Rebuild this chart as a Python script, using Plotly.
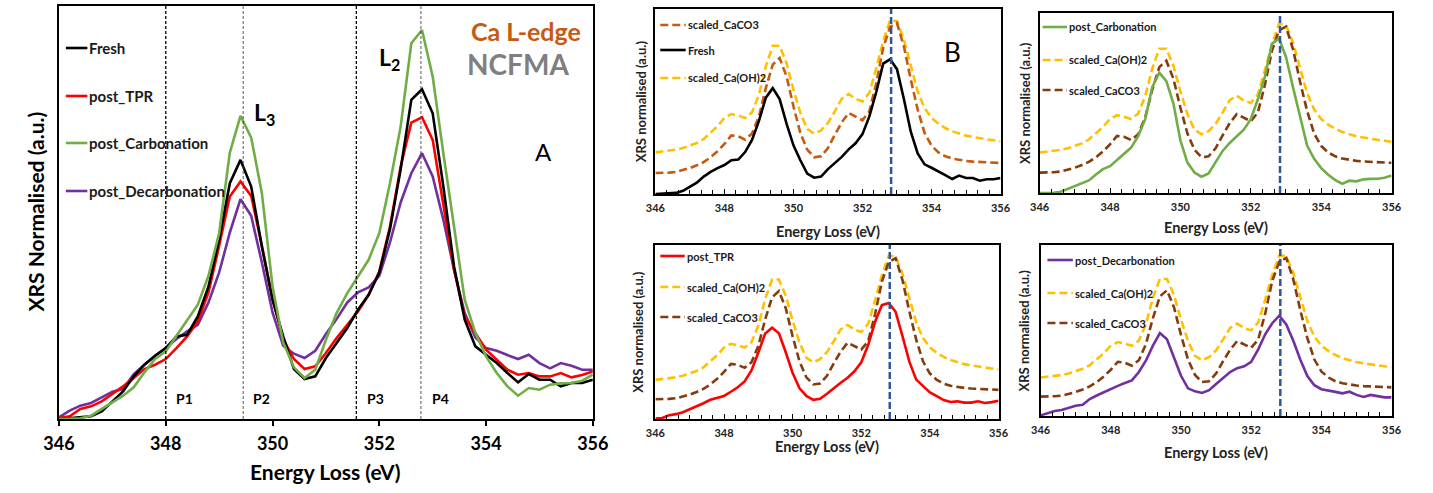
import plotly.graph_objects as go

# ---------------- data ----------------
energy = [346.0, 346.2, 346.4, 346.6, 346.8, 347.0, 347.2, 347.4, 347.6, 347.8,
          348.0, 348.2, 348.4, 348.6, 348.8, 349.0, 349.2, 349.4, 349.6, 349.8,
          350.0, 350.2, 350.4, 350.6, 350.8, 351.0, 351.2, 351.4, 351.6, 351.8,
          352.0, 352.2, 352.4, 352.6, 352.8, 353.0, 353.2, 353.4, 353.6, 353.8,
          354.0, 354.2, 354.4, 354.6, 354.8, 355.0, 355.2, 355.4, 355.6, 355.8, 356.0]

fresh = [0.000, 0.003, 0.006, 0.008, 0.023, 0.053, 0.083, 0.128, 0.163, 0.190,
         0.213, 0.248, 0.253, 0.308, 0.398, 0.538, 0.708, 0.778, 0.698, 0.518,
         0.358, 0.248, 0.150, 0.120, 0.128, 0.183, 0.228, 0.273, 0.328, 0.373,
         0.440, 0.570, 0.750, 0.958, 0.990, 0.918, 0.698, 0.458, 0.298, 0.218,
         0.193, 0.168, 0.138, 0.110, 0.135, 0.118, 0.118, 0.098, 0.108, 0.108, 0.118]

post_tpr = [0.003, 0.008, 0.030, 0.038, 0.053, 0.075, 0.098, 0.123, 0.150, 0.163,
            0.180, 0.213, 0.248, 0.293, 0.380, 0.520, 0.668, 0.713, 0.670, 0.520,
            0.360, 0.240, 0.180, 0.150, 0.158, 0.198, 0.243, 0.283, 0.323, 0.373,
            0.443, 0.578, 0.758, 0.890, 0.906, 0.838, 0.648, 0.448, 0.308, 0.258,
            0.208, 0.178, 0.148, 0.133, 0.138, 0.128, 0.128, 0.138, 0.125, 0.132, 0.143]

post_carbonation = [0.000, 0.000, 0.002, 0.010, 0.030, 0.050, 0.070, 0.095, 0.140, 0.180,
                    0.203, 0.250, 0.298, 0.343, 0.430, 0.558, 0.800, 0.910, 0.845, 0.678,
                    0.398, 0.230, 0.155, 0.123, 0.148, 0.238, 0.318, 0.378, 0.428, 0.478,
                    0.558, 0.708, 0.878, 1.128, 1.168, 1.028, 0.798, 0.578, 0.358, 0.258,
                    0.188, 0.138, 0.098, 0.070, 0.093, 0.088, 0.103, 0.107, 0.108, 0.115, 0.133]

post_decarbonation = [0.005, 0.025, 0.040, 0.048, 0.065, 0.082, 0.090, 0.135, 0.163, 0.190,
                      0.213, 0.240, 0.263, 0.283, 0.350, 0.440, 0.560, 0.660, 0.610, 0.470,
                      0.320, 0.220, 0.196, 0.183, 0.205, 0.255, 0.300, 0.350, 0.380, 0.395,
                      0.430, 0.530, 0.650, 0.738, 0.798, 0.728, 0.598, 0.448, 0.318, 0.245,
                      0.213, 0.205, 0.192, 0.180, 0.193, 0.168, 0.152, 0.168, 0.160, 0.148, 0.148]

scaled_caoh2 = [0.306, 0.311, 0.319, 0.326, 0.338, 0.355, 0.375, 0.404, 0.449, 0.498,
                0.559, 0.588, 0.576, 0.559, 0.600, 0.730, 0.939, 1.090, 1.090, 0.963,
                0.767, 0.596, 0.478, 0.444, 0.468, 0.522, 0.608, 0.701, 0.735, 0.699,
                0.681, 0.743, 0.926, 1.123, 1.277, 1.270, 1.135, 0.939, 0.755, 0.632,
                0.559, 0.517, 0.485, 0.461, 0.444, 0.429, 0.419, 0.409, 0.402, 0.395, 0.387]

scaled_caco3 = [0.154, 0.154, 0.157, 0.162, 0.174, 0.191, 0.211, 0.235, 0.270, 0.314,
                0.368, 0.431, 0.424, 0.400, 0.444, 0.571, 0.779, 0.951, 1.000, 0.865,
                0.645, 0.449, 0.326, 0.270, 0.277, 0.338, 0.436, 0.527, 0.596, 0.571,
                0.542, 0.608, 0.816, 1.074, 1.228, 1.257, 1.086, 0.841, 0.620, 0.449,
                0.355, 0.306, 0.277, 0.260, 0.250, 0.243, 0.238, 0.235, 0.233, 0.230, 0.228]

x_ticks = [346, 348, 350, 352, 354, 356]
region_lines = [348.0, 349.45, 351.57, 352.78]
region_labels = ["P1", "P2", "P3", "P4"]
region_label_x = [348.36, 349.8, 351.92, 353.14]
ref_peak_line = 352.83

# ---------------- styling ----------------
W, H = 1433, 493
FONT = "Lato, Carlito, Calibri, 'Open Sans', sans-serif"
C_FRESH = "#000000"
C_TPR = "#FF0000"
C_CARB = "#70AD47"
C_DECARB = "#7030A0"
C_CAOH2 = "#FFC000"
C_CACO3_B = "#C55A11"
C_CACO3 = "#843C0C"
C_BLUE = "#2F5597"


def fx(p):
    return p / W


def fy(p):
    return 1 - p / H


# panel boxes in pixels: (left, top, right, bottom)
boxes = {
    "A": (44, 6, 590, 419),
    "B": (654, 9, 1007, 194),
    "C": (1047, 13, 1407, 193),
    "D": (654, 245, 1005, 419),
    "E": (1048, 245, 1407, 416),
}
axis_ids = {"A": "", "B": "2", "C": "3", "D": "4", "E": "5"}

fig = go.Figure()


def add(panel, y, color, width=2.6, dash=None):
    aid = axis_ids[panel]
    line = dict(color=color, width=width)
    if dash:
        line["dash"] = dash
    fig.add_trace(go.Scatter(x=energy, y=y, mode="lines", line=line,
                             xaxis="x" + aid, yaxis="y" + aid,
                             showlegend=False, hoverinfo="skip"))


DASH = "8px,4px"
# Panel A
add("A", post_decarbonation, C_DECARB)
add("A", post_tpr, C_TPR)
add("A", fresh, C_FRESH)
add("A", post_carbonation, C_CARB)
# Panel B
add("B", scaled_caoh2, C_CAOH2, dash=DASH)
add("B", scaled_caco3, C_CACO3_B, dash=DASH)
add("B", fresh, C_FRESH)
# Panel C
add("C", scaled_caoh2, C_CAOH2, dash=DASH)
add("C", scaled_caco3, C_CACO3, dash=DASH)
add("C", post_carbonation, C_CARB)
# Panel D
add("D", scaled_caoh2, C_CAOH2, dash=DASH)
add("D", scaled_caco3, C_CACO3, dash=DASH)
add("D", post_tpr, C_TPR)
# Panel E
add("E", scaled_caoh2, C_CAOH2, dash=DASH)
add("E", scaled_caco3, C_CACO3, dash=DASH)
add("E", post_decarbonation, C_DECARB)

layout = dict(
    width=W, height=H,
    margin=dict(l=0, r=0, t=0, b=0),
    paper_bgcolor="white", plot_bgcolor="white",
    font=dict(family=FONT, color="#000000"),
    showlegend=False,
)

for p, (l, t, r, b) in boxes.items():
    aid = axis_ids[p]
    xa = dict(domain=[fx(l), fx(r)], range=[346, 356], showgrid=False, zeroline=False,
              showline=True, linecolor="black", mirror=True,
              tickmode="array", tickvals=x_ticks, ticktext=[str(v) for v in x_ticks],
              anchor="y" + aid, fixedrange=True)
    ya = dict(domain=[fy(b), fy(t)], showgrid=False, zeroline=False,
              showline=True, linecolor="black", mirror=True,
              showticklabels=False, ticks="", anchor="x" + aid, fixedrange=True)
    if p == "A":
        xa.update(linewidth=2, ticks="outside", ticklen=5, tickwidth=1.5, tickcolor="black",
                  tickfont=dict(size=18, family=FONT, color="black", weight="bold"),
                  ticklabelstandoff=2)
        ya.update(linewidth=2, range=[0, 1.24])
    else:
        xa.update(linewidth=1.5, ticks="inside", ticklen=5, tickwidth=1.2, tickcolor="black",
                  tickfont=dict(size=11, family=FONT, color="#222222", weight="bold"),
                  ticklabelstandoff=3,
                  minor=dict(ticks="inside", ticklen=4, tickwidth=1.2, tickcolor="black",
                             dtick=1 / 3, tick0=346, showgrid=False))
        ya.update(linewidth=1.5, range=[0, 1.36])
    layout["xaxis" + aid] = xa
    layout["yaxis" + aid] = ya

fig.update_layout(**layout)

shapes = []
annotations = []


def note(text, x, y, size, color="#000000", xref="paper", yref="paper",
         xanchor="center", yanchor="middle", angle=0):
    annotations.append(dict(text=text, x=x, y=y, xref=xref, yref=yref,
                            xanchor=xanchor, yanchor=yanchor, textangle=angle,
                            showarrow=False, font=dict(size=size, family=FONT, color=color)))


# region separators in panel A
for i, xv in enumerate(region_lines):
    heavy = i in (0, 2)
    shapes.append(dict(type="line", xref="x", yref="y domain", x0=xv, x1=xv, y0=0, y1=1,
                       line=dict(color="#000000" if heavy else "#444444",
                                 width=1.3 if heavy else 0.9, dash="3px,2px")))
for lab, xv in zip(region_labels, region_label_x):
    note("<b>%s</b>" % lab, xv, fy(398), 14, xref="x")

# blue reference lines in panels B-E
for p in ["B", "C", "D", "E"]:
    aid = axis_ids[p]
    shapes.append(dict(type="line", xref="x" + aid, yref="y%s domain" % aid,
                       x0=ref_peak_line, x1=ref_peak_line, y0=0, y1=1,
                       line=dict(color=C_BLUE, width=2.5, dash="7px,3px")))

# panel A texts
note("<b>L<sub>3</sub></b>", 349.85, fy(113), 23, xref="x")
note("<b>L<sub>2</sub></b>", 352.2, fy(58), 23, xref="x")
note("<b>Ca L-edge</b>", fx(580), fy(31), 25, color="#C55A11", xanchor="right")
note("<b>NCFMA</b>", fx(568), fy(64), 28, color="#7F7F7F", xanchor="right")
note("A", fx(540), fy(151), 24)
note("B", fx(958), fy(52), 26)

# axis titles
note("<b>Energy Loss (eV)</b>", fx(317), fy(471), 21)
note("<b>XRS Normalised (a.u.)</b>", fx(19), fy(212), 21, angle=-90)
for p, xt_y, yt_x in [("B", 231, 640), ("C", 227, 1032), ("D", 446, 636), ("E", 452, 1031)]:
    l, t, r, b = boxes[p]
    note("<b>Energy Loss (eV)</b>", fx((l + r) / 2), fy(xt_y), 14.5, color="#222222")
    note("<b>XRS normalised (a.u.)</b>", fx(yt_x), fy((t + b) / 2), 13, color="#222222", angle=-90)


# manual legends
def legend_entry(x0, x1, y, color, text, size, dash=None, width=2.6):
    line = dict(color=color, width=width)
    if dash:
        line["dash"] = dash
    shapes.append(dict(type="line", xref="paper", yref="paper",
                       x0=fx(x0), x1=fx(x1), y0=fy(y), y1=fy(y), line=line))
    note("<b>%s</b>" % text, fx(x1), fy(y), size, color="#1a1a1a", xanchor="left")


legend_entry(51, 73, 48, C_FRESH, "Fresh", 15)
legend_entry(51, 73, 96, C_TPR, "post_TPR", 15)
legend_entry(51, 73, 143, C_CARB, "post_Carbonation", 15)
legend_entry(51, 73, 191, C_DECARB, "post_Decarbonation", 15)

legend_entry(659, 685, 25, C_CACO3_B, "scaled_CaCO3", 11, dash=DASH)
legend_entry(659, 685, 50, C_FRESH, "Fresh", 11)
legend_entry(659, 685, 78, C_CAOH2, "scaled_Ca(OH)2", 11, dash=DASH)

legend_entry(1050, 1075, 27, C_CARB, "post_Carbonation", 11)
legend_entry(1050, 1075, 60, C_CAOH2, "scaled_Ca(OH)2", 11, dash=DASH)
legend_entry(1050, 1075, 90, C_CACO3, "scaled_CaCO3", 11, dash=DASH)

legend_entry(659, 684, 256, C_TPR, "post_TPR", 11)
legend_entry(659, 684, 287, C_CAOH2, "scaled_Ca(OH)2", 11, dash=DASH)
legend_entry(659, 684, 317, C_CACO3, "scaled_CaCO3", 11, dash=DASH)

legend_entry(1055, 1081, 260, C_DECARB, "post_Decarbonation", 11)
legend_entry(1055, 1081, 293, C_CAOH2, "scaled_Ca(OH)2", 11, dash=DASH)
legend_entry(1055, 1081, 323, C_CACO3, "scaled_CaCO3", 11, dash=DASH)

fig.update_layout(shapes=shapes, annotations=annotations)
fig.write_html("out.html", config={"displayModeBar": False},
               post_script="document.body.style.margin='0';")
